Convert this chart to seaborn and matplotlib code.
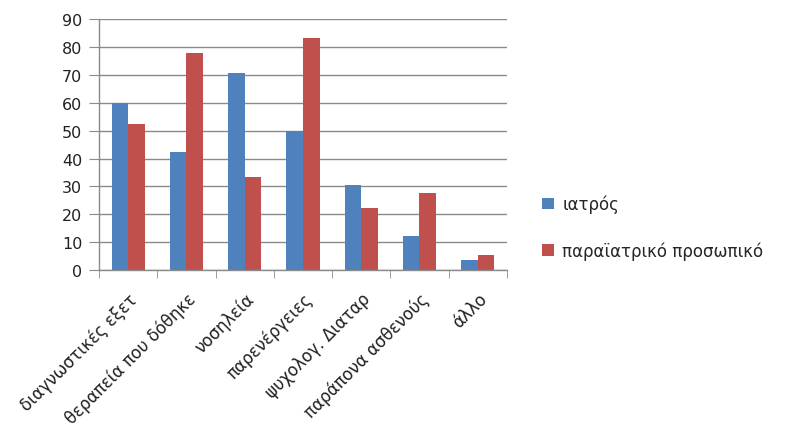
import matplotlib
matplotlib.use("Agg")
import matplotlib.pyplot as plt
import seaborn as sns
import pandas as pd
import numpy as np

categories = ["διαγνωστικές εξετ", "θεραπεία που δόθηκε", "νοσηλεία", "παρενέργειες",
              "ψυχολογ. Διαταρ", "παράπονα ασθενούς", "άλλο"]
series_names = ["ιατρός", "παραϊατρικό προσωπικό"]
doctor = [60.0, 42.4, 70.6, 50.0, 30.6, 12.4, 3.5]
paramedical = [52.4, 77.8, 33.3, 83.3, 22.2, 27.8, 5.6]
yticks = [0, 10, 20, 30, 40, 50, 60, 70, 80, 90]

df = pd.DataFrame({
    "category": categories * 2,
    "series": [series_names[0]] * len(categories) + [series_names[1]] * len(categories),
    "value": doctor + paramedical,
})

sns.set_style("white")
plt.rcParams["font.family"] = ["DejaVu Sans"]

fig = plt.figure(figsize=(7.92, 4.27), dpi=100)
ax = fig.add_axes([0.125, 0.365, 0.515, 0.588])

sns.barplot(data=df, x="category", y="value", hue="series", order=categories,
            hue_order=series_names, palette=["#4F81BD", "#C0504D"],
            width=0.57, saturation=1, linewidth=0, ax=ax, legend=True)

ax.set_xlim(-0.5, len(categories) - 0.5)
ax.set_ylim(0, 90)
ax.set_yticks(yticks)
ax.set_yticklabels([str(t) for t in yticks], fontsize=11.5, color="#222222")
ax.yaxis.grid(True, color="#8a8a8a", linewidth=1)
ax.set_axisbelow(True)
ax.set_xlabel("")
ax.set_ylabel("")

for s in ["top", "right"]:
    ax.spines[s].set_visible(False)
for s in ["left", "bottom"]:
    ax.spines[s].set_color("#8a8a8a")
    ax.spines[s].set_linewidth(1)

ax.tick_params(axis="y", which="major", length=7, color="#8a8a8a", left=True, pad=5)
ax.set_xticks(np.arange(len(categories)))
ax.set_xticklabels(categories, rotation=45, ha="right", rotation_mode="anchor",
                   fontsize=12, color="#222222")
ax.tick_params(axis="x", which="major", length=0, pad=14)
ax.set_xticks(np.arange(len(categories) + 1) - 0.5, minor=True)
ax.tick_params(axis="x", which="minor", length=6, color="#8a8a8a", bottom=True)

handles, labels = ax.get_legend_handles_labels()
ax.legend(handles, labels, loc="center left", bbox_to_anchor=(1.05, 0.17),
          frameon=False, fontsize=12, handlelength=0.7, handleheight=0.7,
          handletextpad=0.5, labelspacing=1.7)

fig.savefig("out.png", dpi=100)
